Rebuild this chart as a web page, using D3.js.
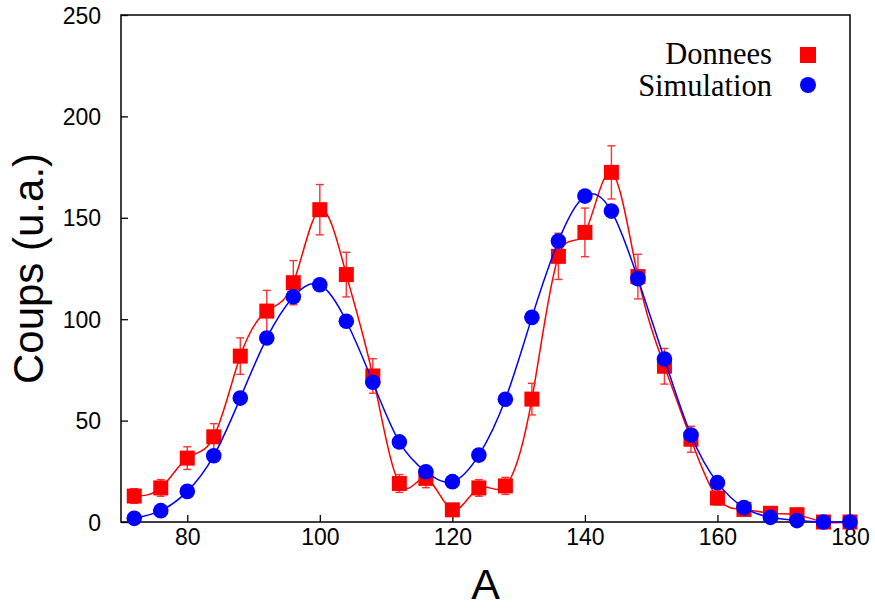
<!DOCTYPE html>
<html>
<head>
<meta charset="utf-8">
<script src="https://cdn.jsdelivr.net/npm/d3@7"></script>
<style>
  html, body { margin: 0; padding: 0; background: #fff; }
  svg { display: block; }
</style>
</head>
<body>
<svg id="chart" width="875" height="608"></svg>
<script>
const massA = [72,76,80,84,88,92,96,100,104,108,112,116,120,124,128,132,136,140,144,148,152,156,160,164,168,172,176,180];
const donnees = [12.8,16.8,31.5,42,81.8,104,118,154,122,72,19,21.5,6,16.8,17.8,60.6,131,142.8,172.4,121,76.8,40.8,11.8,6.2,4.3,3.6,0,0];
const donneesErr = [3.6,4.1,5.6,6.5,9,10.2,10.9,12.4,11,8.5,4.4,4.6,2.5,4.1,4.2,7.8,11.4,12,13.1,11,8.8,6.4,3.4,2.5,2.1,1.9,0,0];
const simulation = [1.8,5.6,15.1,32.7,61.1,90.7,111.1,117,99,68.9,39.5,24.8,19.9,33,60.5,100.9,138.5,160.7,153.3,120,80.4,42.9,19.4,7.1,2.3,0.7,0,0];
const xTicks = [80,100,120,140,160,180];
const yTicks = [0,50,100,150,200,250];
const legendLabels = ["Donnees","Simulation"];

const svg = d3.select("#chart");
const L = 121, R = 850, T = 15, B = 522;
const x = d3.scaleLinear().domain([70,180]).range([L,R]);
const y = d3.scaleLinear().domain([0,250]).range([B,T]);

// axes (inward ticks)
const xAxis = d3.axisBottom(x).tickValues(xTicks).tickSizeInner(-7).tickSizeOuter(0).tickPadding(18);
const yAxis = d3.axisLeft(y).tickValues(yTicks).tickSizeInner(-7).tickSizeOuter(0).tickPadding(20);

const gx = svg.append("g").attr("transform",`translate(0,${B})`).call(xAxis);
const gy = svg.append("g").attr("transform",`translate(${L},0)`).call(yAxis);
[gx,gy].forEach(g=>{
  g.select(".domain").remove();
  g.selectAll(".tick line").attr("stroke","#000").attr("stroke-width",1.3);
  g.selectAll(".tick text").attr("fill","#000")
    .style("font-family","'Liberation Sans', Arial, sans-serif").style("font-size","23px");
});
gy.selectAll(".tick text").attr("dy","0.35em");
gx.selectAll(".tick text").attr("dy","0.71em").attr("y",7);

// frame
svg.append("rect").attr("x",L).attr("y",T).attr("width",R-L).attr("height",B-T)
  .attr("fill","none").attr("stroke","#000").attr("stroke-width",1.5);

// titles
svg.append("text").attr("x",(L+R)/2).attr("y",599).attr("text-anchor","middle")
  .style("font-family","'Liberation Sans', Arial, sans-serif").style("font-size","43px").text("A");
svg.append("text").attr("transform",`translate(43,${(T+B)/2}) rotate(-90)`).attr("text-anchor","middle")
  .style("font-family","'Liberation Sans', Arial, sans-serif").style("font-size","42px").text("Coups (u.a.)");

const red = "#ff0000", blue = "#0000ff";
const dataD = massA.map((a,i)=>({a, v:donnees[i], e:donneesErr[i]}));
const dataS = massA.map((a,i)=>({a, v:simulation[i]}));
const line = d3.line().x(d=>x(d.a)).y(d=>y(d.v)).curve(d3.curveNatural);

// Donnees
svg.append("path").datum(dataD).attr("d",line).attr("fill","none").attr("stroke",red).attr("stroke-width",1.5);
const eb = svg.append("g").attr("stroke","#ff3030").attr("stroke-width",1.4);
dataD.filter(d=>d.e>0).forEach(d=>{
  const cx = x(d.a), y1 = y(d.v+d.e), y0 = y(d.v-d.e);
  eb.append("line").attr("x1",cx).attr("x2",cx).attr("y1",y1).attr("y2",y0);
  eb.append("line").attr("x1",cx-4).attr("x2",cx+4).attr("y1",y1).attr("y2",y1);
  eb.append("line").attr("x1",cx-4).attr("x2",cx+4).attr("y1",y0).attr("y2",y0);
});
svg.append("g").selectAll("rect").data(dataD).join("rect")
  .attr("x",d=>x(d.a)-7.5).attr("y",d=>y(d.v)-7.5).attr("width",15).attr("height",15).attr("fill",red);

// Simulation
svg.append("path").datum(dataS).attr("d",line).attr("fill","none").attr("stroke",blue).attr("stroke-width",1.5);
svg.append("g").selectAll("circle").data(dataS).join("circle")
  .attr("cx",d=>x(d.a)).attr("cy",d=>y(d.v)).attr("r",7.8).attr("fill",blue);

// legend
const lg = svg.append("g");
lg.append("text").attr("x",772).attr("y",64).attr("text-anchor","end")
  .style("font-family","'Liberation Serif', 'Times New Roman', serif").style("font-size","30.5px").text(legendLabels[0]);
lg.append("text").attr("x",772).attr("y",96).attr("text-anchor","end")
  .style("font-family","'Liberation Serif', 'Times New Roman', serif").style("font-size","30.5px").text(legendLabels[1]);
lg.append("rect").attr("x",800).attr("y",47).attr("width",16).attr("height",16).attr("fill",red);
lg.append("circle").attr("cx",808).attr("cy",85).attr("r",8).attr("fill",blue);
</script>
</body>
</html>
